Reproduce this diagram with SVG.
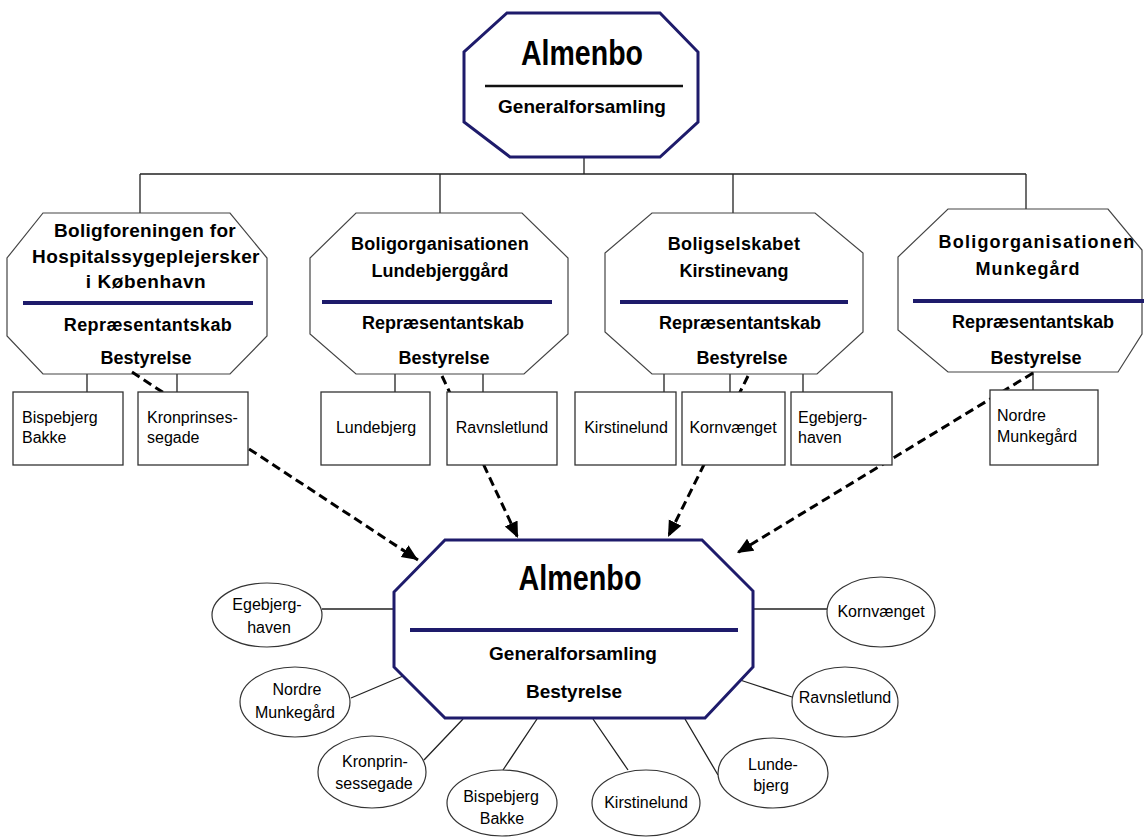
<svg xmlns="http://www.w3.org/2000/svg" width="1144" height="837" viewBox="0 0 1144 837">
<style>
text{font-family:"Liberation Sans",Arial,sans-serif;fill:#000}
.b{font-weight:bold;text-anchor:middle}
.s18{font-size:18px}
.s19{font-size:19px}
.r{font-size:16px}
.c{text-anchor:middle}
.navy{fill:#fff;stroke:#1e1b6b;stroke-width:3}
.gray{fill:#fff;stroke:#444;stroke-width:1.2}
.div{stroke:#1e1b6b;stroke-width:4}
.box{fill:#fff;stroke:#333;stroke-width:1.3}
.ell{fill:#fff;stroke:#333;stroke-width:1.2}
.ln{stroke:#222;stroke-width:1.3;fill:none}
.dash{stroke:#000;stroke-width:3;stroke-dasharray:9 5;fill:none;marker-end:url(#ah)}
</style>
<defs>
<marker id="ah" markerUnits="userSpaceOnUse" markerWidth="18" markerHeight="16" refX="16" refY="7" orient="auto">
<path d="M0,0 L16,7 L0,14 Z" fill="#000"/>
</marker>
</defs>
<rect width="1144" height="837" fill="#fff"/>

<g id="connectors-solid">
<path class="ln" d="M584,157 V174 M140,174 H1026 M140,174 V213 M440,174 V213 M733,174 V213 M1026,174 V209"/>
<path class="ln" d="M87,374 V392 M177,374 V392 M395,374 V392 M483,374 V392 M664,374 V392 M730,374 V392 M803,374 V392 M1033,372 V390"/>
<path class="ln" d="M322,609 H394 M351,698 L403,676 M424,760 L463,719 M503,770 L537,719 M628,770 L593,719 M718,775 L685,719 M792,697 L740,680 M753,609 H828"/>
</g>

<g id="n-almenbo-top">
<polygon class="navy" points="507,13 660,13 698,52 698,122 660,157 510,157 464,122 464,52"/>
<line x1="485" y1="86" x2="683" y2="86" stroke="#111" stroke-width="2.5"/>
<text class="b" x="582" y="65" font-size="35" textLength="122" lengthAdjust="spacingAndGlyphs">Almenbo</text>
<text class="b s19" x="582" y="113">Generalforsamling</text>
</g>

<g id="n-org1">
<polygon class="gray" points="43,213 230,213 267,258 267,336 230,374 43,374 7,336 7,258"/>
<line class="div" x1="23" y1="303" x2="253" y2="303"/>
<text class="b s19" x="145" y="237" letter-spacing="0.3">Boligforeningen for</text>
<text class="b s19" x="146" y="263" letter-spacing="0.4">Hospitalssygeplejersker</text>
<text class="b s19" x="146" y="288" letter-spacing="0.6">i København</text>
<text class="b s18" x="148" y="331" letter-spacing="0.4">Repræsentantskab</text>
<text class="b s18" x="146" y="364">Bestyrelse</text>
</g>

<g id="n-org2">
<polygon class="gray" points="356,213 522,213 568,258 568,334 524,374 356,374 310,334 310,258"/>
<line class="div" x1="322" y1="302" x2="552" y2="302"/>
<text class="b s18" x="440" y="250" letter-spacing="0.2">Boligorganisationen</text>
<text class="b s18" x="440" y="277">Lundebjerggård</text>
<text class="b s18" x="443" y="329">Repræsentantskab</text>
<text class="b s18" x="444" y="364">Bestyrelse</text>
</g>

<g id="n-org3">
<polygon class="gray" points="652,213 815,213 863,253 863,332 817,374 652,374 605,332 605,253"/>
<line class="div" x1="620" y1="302" x2="848" y2="302"/>
<text class="b s18" x="734" y="250" letter-spacing="0.4">Boligselskabet</text>
<text class="b s18" x="734" y="277">Kirstinevang</text>
<text class="b s18" x="740" y="329">Repræsentantskab</text>
<text class="b s18" x="742" y="364">Bestyrelse</text>
</g>

<g id="n-org4">
<polygon class="gray" points="948,209 1108,209 1142,250 1142,334 1118,372 948,372 898,330 898,257"/>
<line class="div" x1="913" y1="301" x2="1144" y2="301"/>
<text class="b s18" x="1037" y="248" letter-spacing="1.2">Boligorganisationen</text>
<text class="b s18" x="1028" y="275" letter-spacing="1">Munkegård</text>
<text class="b s18" x="1033" y="328">Repræsentantskab</text>
<text class="b s18" x="1036" y="364">Bestyrelse</text>
</g>

<g id="n-almenbo-center">
<polygon class="navy" points="445,540 702,540 753,591 753,667 705,718 445,718 394,667 394,592"/>
<line class="div" x1="410" y1="630" x2="738" y2="630"/>
<text class="b" x="580" y="590" font-size="35" textLength="123" lengthAdjust="spacingAndGlyphs">Almenbo</text>
<text class="b s19" x="573" y="660">Generalforsamling</text>
<text class="b s19" x="574" y="698">Bestyrelse</text>
</g>

<g id="connectors-dashed">
<line class="dash" x1="132" y1="372" x2="418" y2="560"/>
<line class="dash" x1="442" y1="376" x2="518" y2="538"/>
<line class="dash" x1="748" y1="376" x2="668" y2="537"/>
<line class="dash" x1="1033" y1="373" x2="737" y2="553"/>
</g>

<g id="b-bispebjerg"><rect class="box" x="13" y="392" width="110" height="73"/><text class="r" x="22" y="423">Bispebjerg</text><text class="r" x="22" y="443">Bakke</text></g>
<g id="b-kronprinsesse"><rect class="box" x="138" y="392" width="110" height="73"/><text class="r" x="147" y="423">Kronprinses-</text><text class="r" x="147" y="443">segade</text></g>
<g id="b-lundebjerg"><rect class="box" x="321" y="392" width="109" height="73"/><text class="r c" x="376" y="433">Lundebjerg</text></g>
<g id="b-ravnsletlund"><rect class="box" x="447" y="392" width="110" height="73"/><text class="r c" x="502" y="433">Ravnsletlund</text></g>
<g id="b-kirstinelund"><rect class="box" x="575" y="392" width="101" height="73"/><text class="r c" x="626" y="433">Kirstinelund</text></g>
<g id="b-kornvaenget"><rect class="box" x="682" y="392" width="103" height="73"/><text class="r c" x="733" y="433">Kornvænget</text></g>
<g id="b-egebjerg"><rect class="box" x="791" y="392" width="101" height="73"/><text class="r" x="798" y="423">Egebjerg-</text><text class="r" x="798" y="443">haven</text></g>
<g id="b-nordre"><rect class="box" x="990" y="390" width="108" height="75"/><text class="r" x="997" y="421">Nordre</text><text class="r" x="997" y="442">Munkegård</text></g>

<g id="e-egebjerg"><ellipse class="ell" cx="267" cy="615" rx="55" ry="32"/><text class="r c" x="267" y="610">Egebjerg-</text><text class="r c" x="269" y="633">haven</text></g>
<g id="e-nordre"><ellipse class="ell" cx="295" cy="702" rx="55" ry="35"/><text class="r c" x="297" y="695">Nordre</text><text class="r c" x="295" y="718">Munkegård</text></g>
<g id="e-kronprin"><ellipse class="ell" cx="372" cy="772" rx="54" ry="36"/><text class="r c" x="375" y="767">Kronprin-</text><text class="r c" x="374" y="789">sessegade</text></g>
<g id="e-bispebjerg"><ellipse class="ell" cx="502" cy="803" rx="55" ry="33"/><text class="r c" x="501" y="802">Bispebjerg</text><text class="r c" x="502" y="824">Bakke</text></g>
<g id="e-kirstinelund"><ellipse class="ell" cx="646" cy="803" rx="54" ry="33"/><text class="r c" x="646" y="808">Kirstinelund</text></g>
<g id="e-lundebjerg"><ellipse class="ell" cx="773" cy="773" rx="55" ry="35"/><text class="r c" x="773" y="770">Lunde-</text><text class="r c" x="771" y="791">bjerg</text></g>
<g id="e-ravnsletlund"><ellipse class="ell" cx="845" cy="702" rx="53" ry="35"/><text class="r c" x="845" y="703">Ravnsletlund</text></g>
<g id="e-kornvaenget"><ellipse class="ell" cx="881" cy="612" rx="54" ry="35"/><text class="r c" x="881" y="617">Kornvænget</text></g>
</svg>
